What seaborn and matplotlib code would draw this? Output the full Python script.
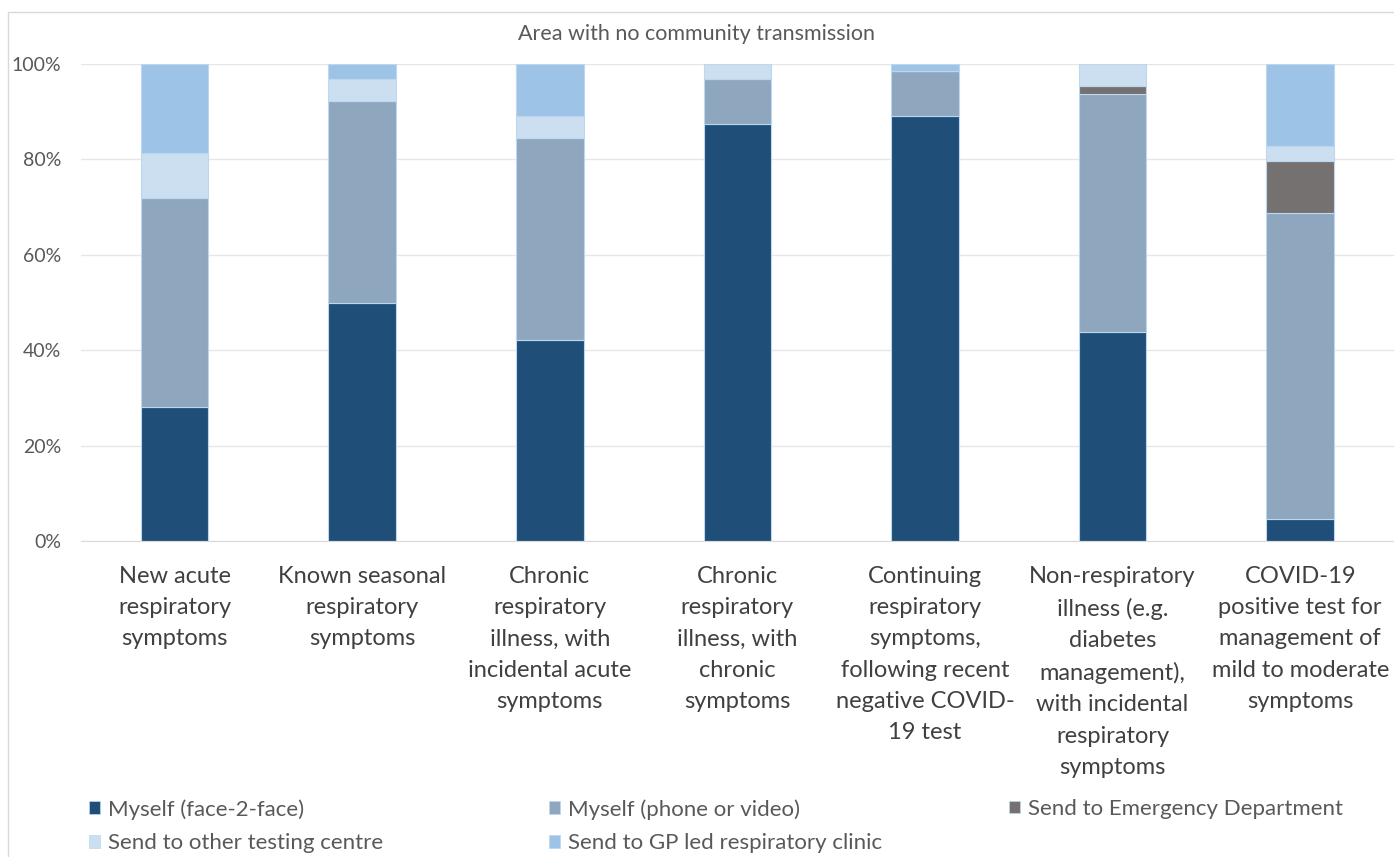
import matplotlib
matplotlib.use("Agg")
import matplotlib.pyplot as plt
import matplotlib.patches as mpatches
import numpy as np
import pandas as pd
import seaborn as sns

categories = [
    "New acute\nrespiratory\nsymptoms",
    "Known seasonal\nrespiratory\nsymptoms",
    "Chronic\nrespiratory\nillness, with\nincidental acute\nsymptoms",
    "Chronic\nrespiratory\nillness, with\nchronic\nsymptoms",
    "Continuing\nrespiratory\nsymptoms,\nfollowing recent\nnegative COVID-\n19 test",
    "Non-respiratory\nillness (e.g.\ndiabetes\nmanagement),\nwith incidental\nrespiratory\nsymptoms",
    "COVID-19\npositive test for\nmanagement of\nmild to moderate\nsymptoms",
]

series_names = [
    "Myself (face-2-face)",
    "Myself (phone or video)",
    "Send to Emergency Department",
    "Send to other testing centre",
    "Send to GP led respiratory clinic",
]

face_2_face = [28.1, 50.0, 42.2, 87.5, 89.1, 43.8, 4.7]
phone_video = [43.8, 42.2, 42.2, 9.4, 9.4, 50.0, 64.1]
emergency = [0.0, 0.0, 0.0, 0.0, 0.0, 1.5, 10.9]
other_testing = [9.4, 4.7, 4.7, 3.1, 0.0, 4.7, 3.1]
gp_clinic = [18.7, 3.1, 10.9, 0.0, 1.5, 0.0, 17.2]

colors = ["#1F4E79", "#8FA7BE", "#767171", "#CCDFF1", "#9DC3E6"]

df = pd.DataFrame({
    "category": categories,
    series_names[0]: face_2_face,
    series_names[1]: phone_video,
    series_names[2]: emergency,
    series_names[3]: other_testing,
    series_names[4]: gp_clinic,
})

sns.set_style("white")
plt.rcParams["font.family"] = ["Lato", "DejaVu Sans"]

fig = plt.figure(figsize=(13.94, 8.57), dpi=100)
ax = fig.add_axes([0.058, 0.3687, 0.942, 0.5566])

bottom = np.zeros(len(categories))
for name, color in zip(series_names, colors):
    sns.barplot(data=df, x="category", y=name, color=color, width=0.36,
                bottom=bottom, edgecolor="#BDD7EE", linewidth=0.8,
                saturation=1, ax=ax)
    bottom += df[name].to_numpy()

ax.set_ylim(0, 100)
ax.set_xlim(-0.5, len(categories) - 0.5)
ax.set_yticks([0, 20, 40, 60, 80, 100])
ax.set_yticklabels(["0%", "20%", "40%", "60%", "80%", "100%"])
ax.yaxis.grid(True, color="#E6E6E6", linewidth=1)
ax.set_axisbelow(True)
for s in ax.spines.values():
    s.set_visible(False)
ax.spines["bottom"].set_visible(True)
ax.spines["bottom"].set_color("#D9D9D9")
ax.set_xlabel("")
ax.set_ylabel("")
ax.tick_params(axis="y", length=0, labelsize=14, labelcolor="#595959", pad=14)
ax.tick_params(axis="x", length=0, labelsize=17, labelcolor="#404040", pad=18)
for t in ax.get_xticklabels():
    t.set_linespacing(1.6)
    t.set_verticalalignment("top")

fig.text(0.5, 0.960, "Area with no community transmission", ha="center",
         va="center", fontsize=15.5, color="#595959")

# outer chart border
fig.patches.append(mpatches.Rectangle((0.006, -0.01), 1.0, 0.996,
                                      transform=fig.transFigure, fill=False,
                                      edgecolor="#D9D9D9", linewidth=1))

handles = [mpatches.Patch(facecolor=c, edgecolor="#BDD7EE", linewidth=0.5)
           for c in colors]
columns = [([0, 3], 0.0574), ([1, 4], 0.3874), ([2], 0.7174)]
for idx, x0 in columns:
    leg = fig.legend([handles[i] for i in idx], [series_names[i] for i in idx],
                     loc="upper left", bbox_to_anchor=(x0, 0.078),
                     frameon=False, fontsize=16, handlelength=0.5,
                     handleheight=0.5, handletextpad=0.35, labelspacing=0.62,
                     borderaxespad=0)
    for t in leg.get_texts():
        t.set_color("#595959")

fig.savefig("out.png", dpi=100)
